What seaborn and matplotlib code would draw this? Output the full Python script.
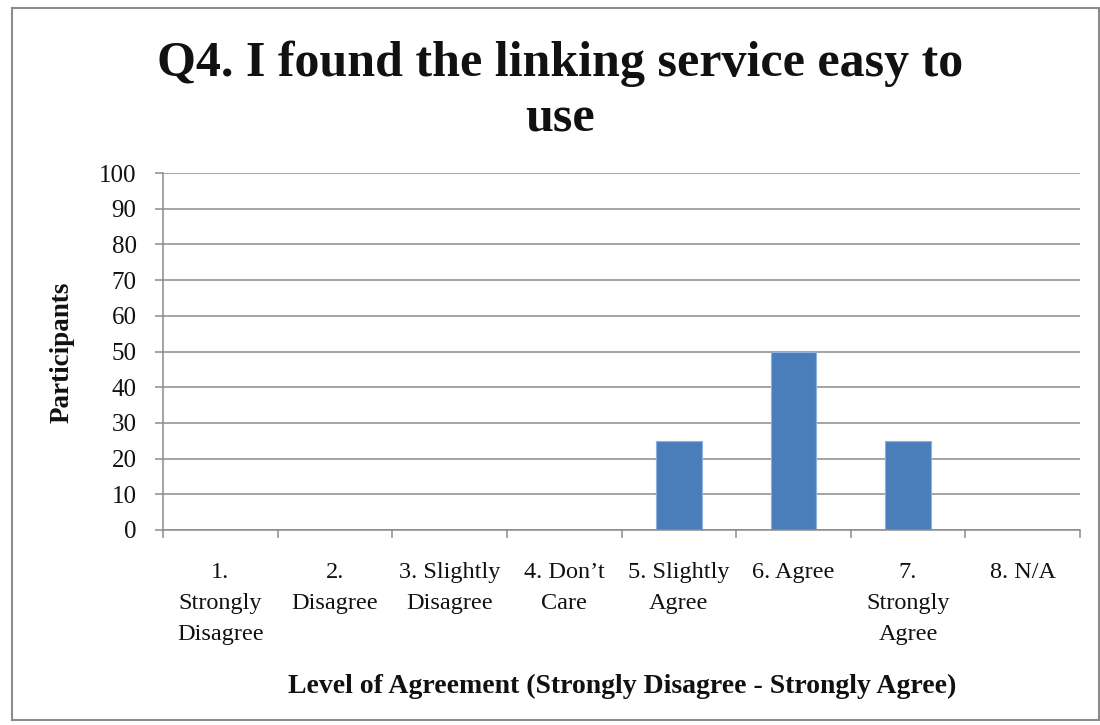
import matplotlib
matplotlib.use("Agg")
import matplotlib.pyplot as plt
import seaborn as sns
import pandas as pd
import numpy as np
from matplotlib.patches import Rectangle

categories = ["1.\nStrongly\nDisagree", "2.\nDisagree", "3. Slightly\nDisagree", "4. Don\u2019t\nCare",
              "5. Slightly\nAgree", "6. Agree", "7.\nStrongly\nAgree", "8. N/A"]
participants = [0, 0, 0, 0, 25, 50, 25, 0]
y_ticks = [0, 10, 20, 30, 40, 50, 60, 70, 80, 90, 100]
title_lines = ["Q4. I found the linking service easy to", "use"]

sns.set_theme(style="white")
plt.rcParams['font.family'] = ['Liberation Serif', 'DejaVu Serif']

df = pd.DataFrame({"cat": categories, "val": participants})

fig = plt.figure(figsize=(11, 7.25), dpi=100)
W, H = 1100, 725
ax = fig.add_axes([163 / W, 1 - 530 / H, (1080 - 163) / W, (530 - 173) / H])

sns.barplot(data=df, x="cat", y="val", color="#4A7EBB", width=0.4, ax=ax,
            edgecolor="#8DB0DC", linewidth=0.8, saturation=1)

grey = "#8C8C8C"
ax.set_ylim(0, 100)
ax.set_xlim(-0.5, len(categories) - 0.5)
ax.set_yticks(y_ticks)
ax.set_yticklabels([str(t) for t in y_ticks], fontsize=18, color="#111111")
ax.yaxis.grid(True, color=grey, linewidth=1.1)
ax.set_axisbelow(True)
for s in ["top", "right"]:
    ax.spines[s].set_visible(False)
for s in ["left", "bottom"]:
    ax.spines[s].set_color(grey)
    ax.spines[s].set_linewidth(1.1)

ax.set_xticks(range(len(categories)))
ax.set_xticklabels(categories, fontsize=17.5, linespacing=1.62, va="top", color="#111111")
ax.tick_params(axis="x", which="major", length=0, pad=23)
ax.set_xticks(np.arange(-0.5, len(categories), 1.0), minor=True)
ax.tick_params(axis="x", which="minor", length=6, color=grey, width=1.1, bottom=True)
ax.tick_params(axis="y", which="major", length=6, color=grey, width=1.1, left=True, pad=13)

ax.set_ylabel("")
ax.set_xlabel("")
fig.text(62 / W, 1 - 352 / H, "Participants", rotation=90, ha="center", va="center",
         fontsize=19.5, fontweight="bold", color="#111111")
fig.text(622 / W, 1 - 693 / H, "Level of Agreement (Strongly Disagree - Strongly Agree)",
         ha="center", va="baseline", fontsize=20, fontweight="bold", color="#111111")

fig.text(560 / W, 1 - 76 / H, title_lines[0], ha="center", va="baseline",
         fontsize=36, fontweight="bold", color="#111111")
fig.text(560 / W, 1 - 131 / H, title_lines[1], ha="center", va="baseline",
         fontsize=36, fontweight="bold", color="#111111")

fig.patches.append(Rectangle((12 / W, 1 - 720 / H), (1099 - 12) / W, (720 - 8) / H,
                             transform=fig.transFigure, fill=False,
                             edgecolor=grey, linewidth=1.5))

fig.savefig("out.png", dpi=100)
